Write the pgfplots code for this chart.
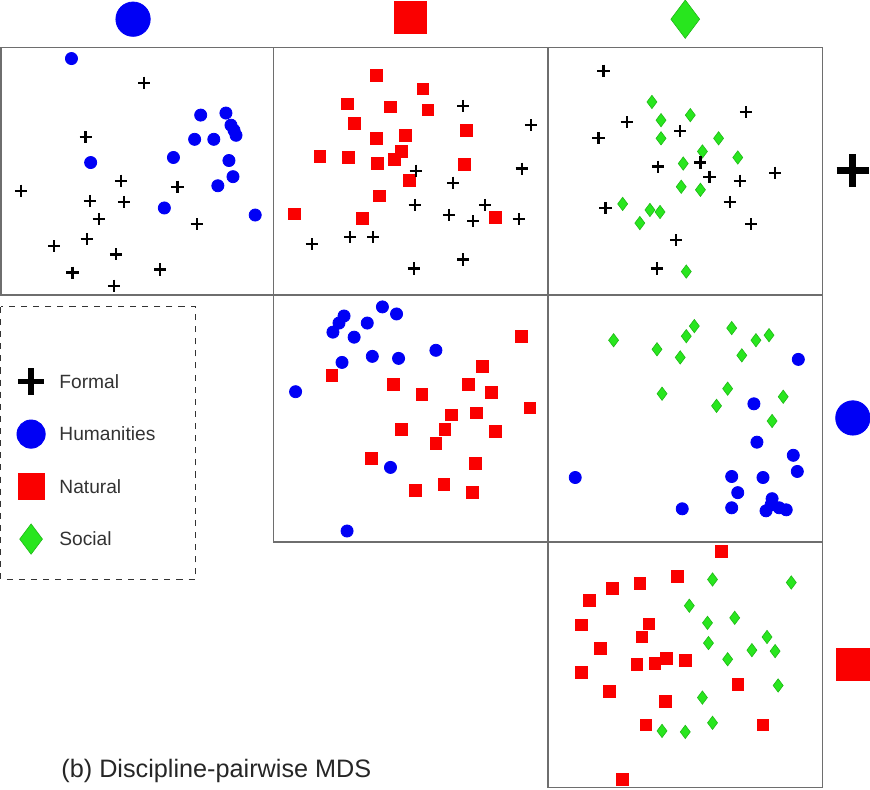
\documentclass[border=0pt]{standalone}
\usepackage{pgfplots}
\pgfplotsset{compat=1.18}
\usepackage{fontspec}
\setmainfont{Liberation Sans}
\definecolor{mblue}{RGB}{0,0,245}
\definecolor{mred}{RGB}{250,0,0}
\definecolor{mgreen}{RGB}{40,230,30}
\definecolor{frame}{RGB}{110,110,110}
\begin{document}
\begin{tikzpicture}
\begin{axis}[width=435pt,height=392.5pt,scale only axis,
 xmin=0,xmax=870,ymin=0,ymax=785,y dir=reverse,axis lines=none,clip=false,
 ticks=none]
\pgfplotsset{
 hum/.style={only marks,mark=*,mark size=3pt,draw=mblue,fill=mblue},
 nat/.style={only marks,mark=square*,mark size=2.9pt,draw=mred,fill=mred},
 soc/.style={only marks,mark=diamond*,mark size=3.3pt,draw=mgreen!80!black,fill=mgreen,line width=0.3pt},
 frm/.style={only marks,mark=+,mark size=3pt,black,line width=1.1pt}}
% panels
\draw[frame,line width=0.8pt] (axis cs:7,50) rectangle (axis cs:277,295);
\draw[frame,line width=0.8pt] (axis cs:277,50) rectangle (axis cs:549,295);
\draw[frame,line width=0.8pt] (axis cs:549,50) rectangle (axis cs:821,295);
\draw[frame,line width=0.8pt] (axis cs:277,295) rectangle (axis cs:549,540);
\draw[frame,line width=0.8pt] (axis cs:549,295) rectangle (axis cs:821,540);
\draw[frame,line width=0.8pt] (axis cs:549,540) rectangle (axis cs:821,783);
\draw[black!80,dashed,line width=0.5pt] (axis cs:7,307) rectangle (axis cs:200,577);
% panel 1
\addplot[hum] coordinates {(77,61)(205,117)(230,115)(235,127)(238,132)(240,137)(199,141)(218,141)(178,159)(96,164)(233,162)(237,178)(222,187)(169,209)(259,216)};
\addplot[frm] coordinates {(149,85)(91,139)(27,192)(126,182)(182,188)(95,202)(129,203)(104,220)(201,225)(60,247)(92,240)(121,255)(165,270)(78,273)(119,286)};
% panel 2
\addplot[nat] coordinates {(379,78)(425,91)(350,106)(393,109)(430,112)(357,125)(468,132)(379,140)(408,137)(323,158)(351,159)(404,153)(397,161)(380,165)(466,166)(412,182)(382,197)(298,215)(365,219)(497,218)};
\addplot[frm] coordinates {(465,108)(532,127)(523,170)(418,172)(455,184)(417,206)(487,206)(451,216)(475,222)(520,220)(315,245)(353,238)(376,238)(416,269)(465,260)};
% panel 3
\addplot[soc] coordinates {(652,104)(690,117)(661,122)(661,140)(718,140)(702,153)(737,159)(683,165)(681,188)(700,191)(623,205)(650,211)(660,213)(640,224)(686,272)};
\addplot[frm] coordinates {(604,73)(745,114)(627,124)(680,133)(599,140)(658,168)(700,164)(709,178)(739,182)(774,174)(729,203)(606,209)(750,225)(676,241)(657,269)};
% panel 4
\addplot[hum] coordinates {(385,307)(347,316)(370,323)(399,314)(342,323)(336,332)(357,337)(375,356)(401,358)(345,362)(438,350)(299,391)(393,466)(350,529)};
\addplot[nat] coordinates {(523,336)(335,375)(484,366)(396,384)(470,384)(424,394)(493,392)(531,407)(453,414)(478,412)(404,428)(447,428)(497,430)(438,442)(374,457)(477,462)(446,483)(418,489)(474,491)};
% panel 5
\addplot[soc] coordinates {(694,326)(731,328)(686,336)(768,335)(614,340)(657,349)(680,357)(741,355)(755,340)(727,388)(662,393)(716,405)(782,396)(771,420)};
\addplot[hum] coordinates {(797,359)(753,403)(756,441)(792,454)(796,470)(576,476)(731,475)(762,476)(737,491)(771,497)(682,507)(731,506)(765,509)(778,506)(785,508)(770,503)};
% panel 6
\addplot[nat] coordinates {(721,549)(677,574)(640,581)(613,586)(590,598)(582,622)(649,621)(642,634)(601,645)(666,655)(655,660)(685,657)(637,661)(582,669)(610,688)(737,681)(665,698)(646,721)(762,721)(623,775)};
\addplot[soc] coordinates {(712,577)(790,580)(689,603)(707,620)(734,615)(708,640)(766,634)(751,647)(774,648)(727,656)(777,682)(702,694)(712,719)(662,727)(685,728)};
% header icons
\addplot[hum,mark size=8.5pt] coordinates {(138,22)(851,417)};
\addplot[nat,mark size=8pt] coordinates {(413,20)(851,661)};
\addplot[soc,mark size=9.5pt] coordinates {(685,22)};
\addplot[frm,mark size=8pt,line width=3.5pt] coordinates {(851,172)};
% legend
\addplot[frm,mark size=6.5pt,line width=2.8pt] coordinates {(37,381)};
\addplot[hum,mark size=7pt] coordinates {(37,433)};
\addplot[nat,mark size=6.5pt] coordinates {(37,485)};
\addplot[soc,mark size=7.5pt] coordinates {(37,537)};
\node[anchor=west,font=\fontsize{9.5}{11}\selectfont,text=black!80] at (axis cs:58,381) {Formal};
\node[anchor=west,font=\fontsize{9.5}{11}\selectfont,text=black!80] at (axis cs:58,433) {Humanities};
\node[anchor=west,font=\fontsize{9.5}{11}\selectfont,text=black!80] at (axis cs:58,485) {Natural};
\node[anchor=west,font=\fontsize{9.5}{11}\selectfont,text=black!80] at (axis cs:58,537) {Social};
\node[anchor=west,font=\fontsize{12.5}{14}\selectfont,text=black!85] at (axis cs:60,767) {(b) Discipline-pairwise MDS};
\end{axis}
\end{tikzpicture}
\end{document}
